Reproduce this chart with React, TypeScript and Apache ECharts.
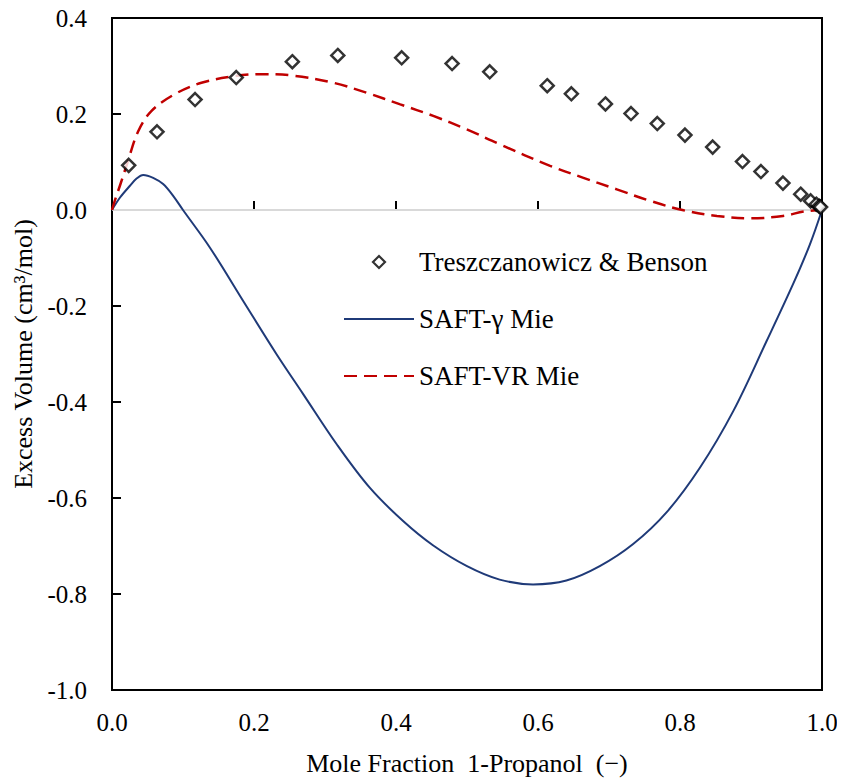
import React, { useEffect, useRef } from "react";
import * as echarts from "echarts";

// Experimental data: Treszczanowicz & Benson
const expX = [0.0235, 0.0634, 0.117, 0.175, 0.254, 0.318, 0.408, 0.479, 0.532, 0.613, 0.647, 0.695, 0.731, 0.768, 0.807, 0.846, 0.888, 0.914, 0.945, 0.970, 0.984, 0.992, 0.996, 0.998];
const expY = [0.093, 0.163, 0.230, 0.276, 0.309, 0.322, 0.317, 0.305, 0.288, 0.259, 0.242, 0.221, 0.201, 0.180, 0.156, 0.131, 0.101, 0.080, 0.056, 0.033, 0.019, 0.012, 0.008, 0.006];

// SAFT-γ Mie
const gammaX = [0, 0.0113, 0.025, 0.035, 0.044, 0.058, 0.072, 0.0864, 0.100, 0.138, 0.185, 0.232, 0.2695, 0.3165, 0.363, 0.410, 0.4525, 0.500, 0.546, 0.593, 0.640, 0.687, 0.734, 0.781, 0.828, 0.875, 0.922, 0.960, 0.983, 1.0];
const gammaY = [0, 0.026, 0.050, 0.066, 0.073, 0.067, 0.054, 0.029, 0.0, -0.0785, -0.190, -0.301, -0.384, -0.488, -0.5785, -0.648, -0.699, -0.742, -0.770, -0.780, -0.772, -0.742, -0.696, -0.630, -0.537, -0.419, -0.273, -0.152, -0.0715, 0];

// SAFT-VR Mie
const vrX = [0, 0.005, 0.011, 0.0225, 0.0366, 0.0554, 0.088, 0.126, 0.173, 0.208, 0.255, 0.312, 0.359, 0.406, 0.4525, 0.4996, 0.546, 0.617, 0.664, 0.711, 0.758, 0.805, 0.852, 0.899, 0.945, 0.975, 1.0];
const vrY = [0, 0.024, 0.050, 0.102, 0.163, 0.206, 0.241, 0.265, 0.279, 0.283, 0.280, 0.265, 0.244, 0.220, 0.196, 0.168, 0.137, 0.092, 0.067, 0.043, 0.019, -0.0007, -0.0125, -0.0174, -0.0125, -0.003, 0];

const zeroX = [0, 1];
const zeroY = [0, 0];

const xTicks = { min: 0, max: 1, interval: 0.2 };
const yTicks = { min: -1.0, max: 0.4, interval: 0.2 };

const seriesNames = ["Treszczanowicz & Benson", "SAFT-γ Mie", "SAFT-VR Mie"];

const pairs = (xs: number[], ys: number[]) => xs.map((x, i) => [x, ys[i]]);

const FONT = "'Liberation Serif', 'Times New Roman', serif";
const DIAMOND = "path://M5,0L10,5L5,10L0,5Z";

export default function App() {
  const ref = useRef<HTMLDivElement>(null);
  useEffect(() => {
    if (!ref.current) return;
    const chart = echarts.init(ref.current, undefined, { renderer: "svg" });
    chart.setOption({
      animation: false,
      backgroundColor: "#fff",
      grid: {
        left: 112,
        top: 18,
        right: 23,
        bottom: 93,
        show: true,
        borderColor: "#000",
        borderWidth: 2,
      },
      legend: {
        orient: "vertical",
        left: 343,
        top: 247,
        padding: 0,
        itemWidth: 70,
        itemHeight: 12,
        itemGap: 27,
        symbolKeepAspect: true,
        data: [
          { name: seriesNames[0], icon: DIAMOND, itemStyle: { color: "#fff", borderColor: "#000", borderWidth: 2.2 } },
          { name: seriesNames[1], itemStyle: { opacity: 0 } },
          { name: seriesNames[2], itemStyle: { opacity: 0 } },
        ],
        textStyle: {
          fontFamily: FONT,
          fontSize: 27,
          color: "#000",
          lineHeight: 30,
        },
      },
      xAxis: {
        type: "value",
        min: xTicks.min,
        max: xTicks.max,
        interval: xTicks.interval,
        name: "Mole Fraction  1-Propanol  (−)",
        nameLocation: "middle",
        nameGap: 60,
        nameTextStyle: { fontFamily: FONT, fontSize: 26, color: "#000" },
        axisLine: { show: true, lineStyle: { color: "#000", width: 2 } },
        axisTick: { show: true, inside: true, length: 9, lineStyle: { color: "#000", width: 2 } },
        axisLabel: {
          margin: 20,
          fontFamily: FONT,
          fontSize: 25,
          color: "#000",
          formatter: (v: number) => v.toFixed(1),
        },
        splitLine: { show: false },
      },
      yAxis: {
        type: "value",
        min: yTicks.min,
        max: yTicks.max,
        interval: yTicks.interval,
        name: "Excess Volume (cm³/mol)",
        nameLocation: "middle",
        nameGap: 70,
        nameTextStyle: { fontFamily: FONT, fontSize: 26, color: "#000" },
        axisLine: { show: true, lineStyle: { color: "#000", width: 2 } },
        axisTick: { show: true, inside: true, length: 9, lineStyle: { color: "#000", width: 2 } },
        axisLabel: {
          margin: 25,
          fontFamily: FONT,
          fontSize: 25,
          color: "#000",
          formatter: (v: number) => v.toFixed(1),
        },
        splitLine: { show: false },
      },
      series: [
        {
          name: "zero",
          type: "line",
          data: pairs(zeroX, zeroY),
          symbol: "none",
          silent: true,
          z: 1,
          lineStyle: { color: "#d9d9d9", width: 2 },
        },
        {
          name: seriesNames[1],
          type: "line",
          data: pairs(gammaX, gammaY),
          symbol: "none",
          smooth: 0.35,
          z: 3,
          lineStyle: { color: "#1f3a78", width: 2 },
          itemStyle: { color: "#1f3a78" },
        },
        {
          name: seriesNames[2],
          type: "line",
          data: pairs(vrX, vrY),
          symbol: "none",
          smooth: 0.35,
          z: 3,
          lineStyle: { color: "#c00000", width: 2.5, type: [13, 7] },
          itemStyle: { color: "#c00000" },
        },
        {
          name: seriesNames[0],
          type: "scatter",
          data: pairs(expX, expY),
          symbol: "diamond",
          symbolSize: 13,
          z: 4,
          itemStyle: { color: "#fff", borderColor: "#000", borderWidth: 2.5 },
        },
      ],
    });
    return () => chart.dispose();
  }, []);
  return <div ref={ref} style={{ width: 845, height: 783, marginLeft: -8, marginTop: -8 }} />;
}
